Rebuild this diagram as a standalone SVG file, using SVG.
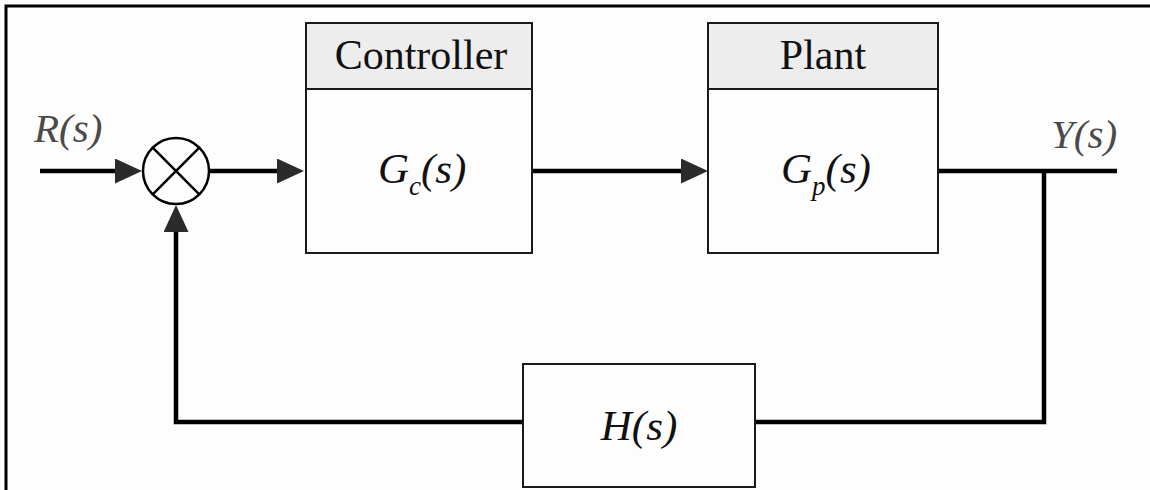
<svg xmlns="http://www.w3.org/2000/svg" width="1150" height="490" viewBox="0 0 1150 490">
  <style>
    .frame { stroke: #000; stroke-width: 3; fill: none; }
    .box { fill: #fdfdfd; stroke: #1a1a1a; stroke-width: 2; }
    .head { fill: #ededed; stroke: #1a1a1a; stroke-width: 2; }
    .wire { stroke: #000; stroke-width: 4.5; fill: none; }
    .title { font-family: "Liberation Serif", "Times New Roman", serif; font-size: 42px; fill: #111; text-anchor: middle; }
    .tf { font-family: "Liberation Serif", "Times New Roman", serif; font-style: italic; font-size: 43px; fill: #111; }
    .sig { font-family: "Liberation Serif", "Times New Roman", serif; font-style: italic; font-size: 41px; fill: #4a4a4a; }
  </style>
  <defs>
    <marker id="arrow" markerUnits="userSpaceOnUse" markerWidth="28" markerHeight="26" refX="19" refY="12.5" orient="auto">
      <path d="M0,0 L27,12.5 L0,25 Z" fill="#2b2b2b"/>
    </marker>
  </defs>

  <rect width="1150" height="490" fill="#fdfdfd"/>

  <!-- outer frame: top and left edges -->
  <path class="frame" d="M6,490 V6 H1150"/>

  <!-- signal labels -->
  <text class="sig" x="34" y="142">R(s)</text>
  <text class="sig" x="1051" y="148">Y(s)</text>

  <g id="connectors">
    <line class="wire" x1="40" y1="171" x2="134" y2="171" marker-end="url(#arrow)"/>
    <line class="wire" x1="209" y1="171" x2="296" y2="171" marker-end="url(#arrow)"/>
    <line class="wire" x1="532" y1="171" x2="700" y2="171" marker-end="url(#arrow)"/>
    <line class="wire" x1="938" y1="171" x2="1117" y2="171"/>
    <polyline class="wire" points="1044,171 1044,422 755,422"/>
    <polyline class="wire" points="523,422 176,422 176,213" marker-end="url(#arrow)"/>
  </g>

  <g id="summing-junction">
    <circle cx="176" cy="171" r="33" fill="#fdfdfd" stroke="#000" stroke-width="2.5"/>
    <line x1="152.7" y1="147.7" x2="199.3" y2="194.3" stroke="#000" stroke-width="2.5"/>
    <line x1="199.3" y1="147.7" x2="152.7" y2="194.3" stroke="#000" stroke-width="2.5"/>
  </g>

  <g id="controller">
    <rect class="box" x="306" y="23" width="226" height="230"/>
    <rect class="head" x="306" y="23" width="226" height="66"/>
    <text class="title" x="421" y="69">Controller</text>
    <text class="tf" x="378" y="183">G<tspan font-size="27" dy="12">c</tspan><tspan dy="-12">(s)</tspan></text>
  </g>

  <g id="plant">
    <rect class="box" x="708" y="23" width="230" height="230"/>
    <rect class="head" x="708" y="23" width="230" height="66"/>
    <text class="title" x="823" y="69">Plant</text>
    <text class="tf" x="781" y="183">G<tspan font-size="27" dy="12">p</tspan><tspan dy="-12">(s)</tspan></text>
  </g>

  <g id="feedback">
    <rect class="box" x="523" y="364" width="232" height="123"/>
    <text class="tf" x="639" y="440" text-anchor="middle">H(s)</text>
  </g>
</svg>
